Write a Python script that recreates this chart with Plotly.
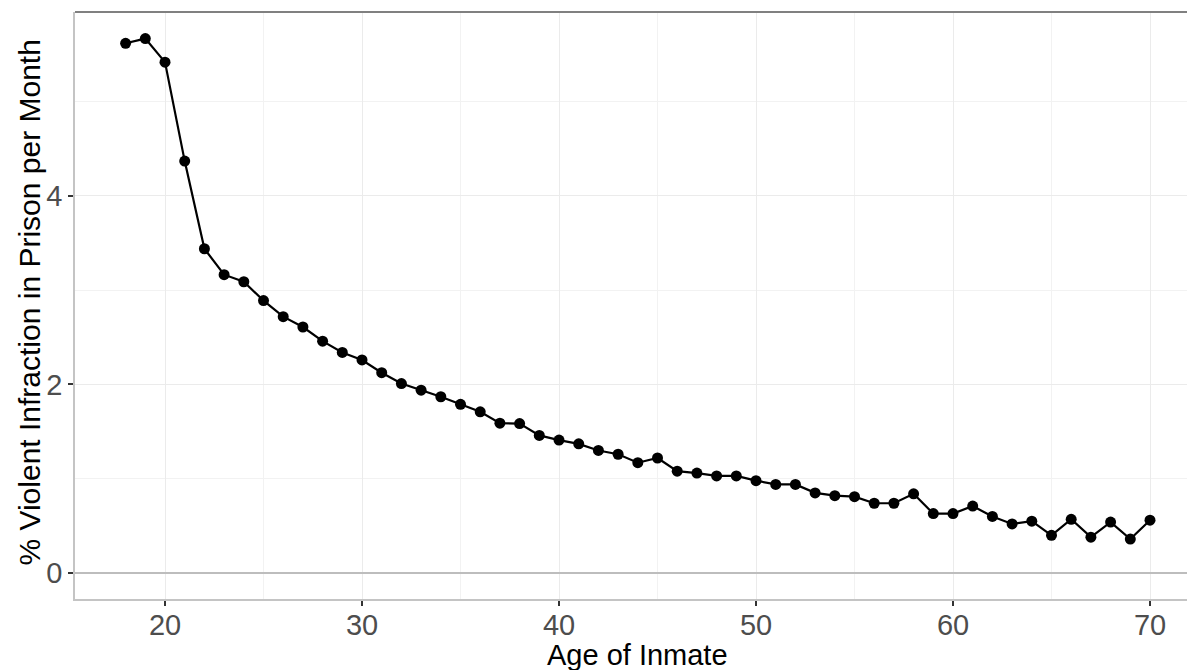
import plotly.graph_objects as go

ages = list(range(18, 71))
rates = [5.62, 5.67, 5.42, 4.37, 3.44, 3.165, 3.09, 2.89, 2.72, 2.61,
         2.46, 2.34, 2.26, 2.125, 2.01, 1.94, 1.87, 1.79, 1.71, 1.59,
         1.585, 1.46, 1.41, 1.37, 1.30, 1.26, 1.17, 1.22, 1.08, 1.06,
         1.03, 1.03, 0.98, 0.94, 0.94, 0.85, 0.82, 0.81, 0.74, 0.74,
         0.84, 0.63, 0.63, 0.71, 0.60, 0.52, 0.55, 0.40, 0.57, 0.38,
         0.54, 0.36, 0.56]
x_ticks = [20, 30, 40, 50, 60, 70]
y_ticks = [0, 2, 4]
x_title = "Age of Inmate"
y_title = "% Violent Infraction in Prison per Month"

FONT = "Liberation Sans, Arial, Helvetica, sans-serif"

fig = go.Figure()
fig.add_trace(go.Scatter(
    x=ages, y=rates, mode="lines+markers",
    line=dict(color="black", width=2.2),
    marker=dict(color="black", size=11),
    hoverinfo="x+y", showlegend=False,
))

fig.update_layout(
    width=1187, height=670,
    margin=dict(l=75, r=0, t=12, b=71, autoexpand=False),
    paper_bgcolor="white", plot_bgcolor="white",
    font=dict(family=FONT),
    showlegend=False,
)

fig.update_xaxes(
    range=[15.431, 71.878], tickvals=x_ticks, ticktext=[str(v) for v in x_ticks],
    showgrid=True, gridcolor="#ebebeb", gridwidth=1.2,
    minor=dict(tickvals=[25, 35, 45, 55, 65], showgrid=True, gridcolor="#f2f2f2", gridwidth=1, ticks=""),
    showline=True, linecolor="#c4c4c4", linewidth=1.5,
    ticks="outside", ticklen=5, tickwidth=1.5, tickcolor="#333333",
    tickfont=dict(size=29, color="#4d4d4d", family=FONT),
    ticklabelstandoff=-6,
    zeroline=False, automargin=False,
)
fig.update_yaxes(
    range=[-0.2759, 5.952], tickvals=y_ticks, ticktext=[str(v) for v in y_ticks],
    showgrid=True, gridcolor="#ebebeb", gridwidth=1.2,
    minor=dict(tickvals=[1, 3, 5], showgrid=True, gridcolor="#f2f2f2", gridwidth=1, ticks=""),
    showline=True, linecolor="#c4c4c4", linewidth=1.5,
    ticks="outside", ticklen=5, tickwidth=1.5, tickcolor="#333333",
    tickfont=dict(size=29, color="#4d4d4d", family=FONT),
    zeroline=True, zerolinecolor="#bdbdbd", zerolinewidth=2,
    automargin=False,
)

# top border of panel
fig.add_shape(type="line", xref="paper", yref="paper", x0=0, x1=1, y0=1, y1=1,
              line=dict(color="#808080", width=2))

fig.add_annotation(text=x_title, xref="x", yref="paper", x=44.0, y=-0.0954,
                   xanchor="center", yanchor="middle", showarrow=False,
                   font=dict(size=29, color="black", family=FONT))
fig.add_annotation(text=y_title, xref="paper", yref="paper", x=-0.0405, y=0.505,
                   xanchor="center", yanchor="middle", textangle=-90, showarrow=False,
                   font=dict(size=30, color="black", family=FONT))

fig.write_html(
    "out.html",
    config={"displayModeBar": False},
    post_script="document.body.style.margin='0';document.body.style.padding='0';document.body.style.overflow='hidden';",
)
